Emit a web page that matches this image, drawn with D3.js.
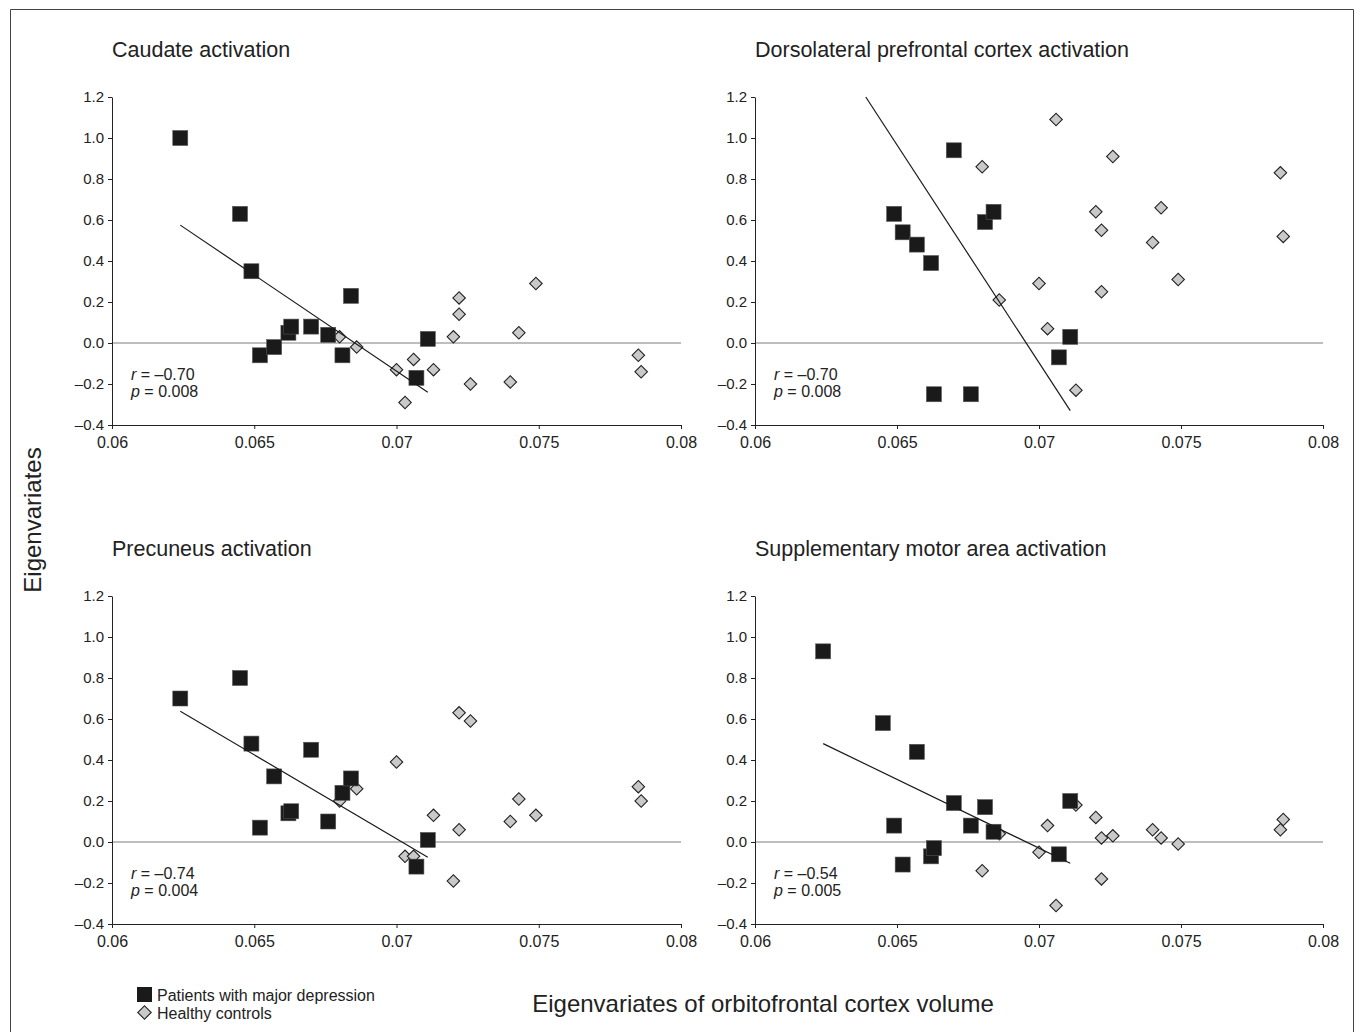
<!DOCTYPE html>
<html>
<head>
<meta charset="utf-8">
<script src="https://cdn.jsdelivr.net/npm/d3@7"></script>
<style>
  body { margin: 0; background: #fff; }
  svg { display: block; font-family: "Liberation Sans", Arial, sans-serif; }
  .axis path, .axis line { stroke: #222; }
  .axis text { fill: #222; }
  .xaxis text { font-size: 16px; }
  .yaxis text { font-size: 15px; }
</style>
</head>
<body>
<script>
// x values shared by all four panels (same subjects)
var patientX = [0.0624, 0.0645, 0.0649, 0.0652, 0.0657, 0.0662, 0.0663, 0.0670, 0.0676, 0.0681, 0.0684, 0.0707, 0.0711];
var controlX = [0.0680, 0.0686, 0.0700, 0.0703, 0.0706, 0.0713, 0.0720, 0.0722, 0.0722, 0.0726, 0.0740, 0.0743, 0.0749, 0.0785, 0.0786];

// eigenvariates per region (null = off the plotted range)
var caudatePatients = [1.00, 0.63, 0.35, -0.06, -0.02, 0.05, 0.08, 0.08, 0.04, -0.06, 0.23, -0.17, 0.02];
var caudateControls = [0.03, -0.02, -0.13, -0.29, -0.08, -0.13, 0.03, 0.22, 0.14, -0.20, -0.19, 0.05, 0.29, -0.06, -0.14];
var dlpfcPatients = [null, null, 0.63, 0.54, 0.48, 0.39, -0.25, 0.94, -0.25, 0.59, 0.64, -0.07, 0.03];
var dlpfcControls = [0.86, 0.21, 0.29, 0.07, 1.09, -0.23, 0.64, 0.55, 0.25, 0.91, 0.49, 0.66, 0.31, 0.83, 0.52];
var precuneusPatients = [0.70, 0.80, 0.48, 0.07, 0.32, 0.14, 0.15, 0.45, 0.10, 0.24, 0.31, -0.12, 0.01];
var precuneusControls = [0.20, 0.26, 0.39, -0.07, -0.07, 0.13, -0.19, 0.63, 0.06, 0.59, 0.10, 0.21, 0.13, 0.27, 0.20];
var smaPatients = [0.93, 0.58, 0.08, -0.11, 0.44, -0.07, -0.03, 0.19, 0.08, 0.17, 0.05, -0.06, 0.20];
var smaControls = [-0.14, 0.04, -0.05, 0.08, -0.31, 0.18, 0.12, 0.02, -0.18, 0.03, 0.06, 0.02, -0.01, 0.06, 0.11];

// fitted lines (patients), end points
var caudateFit = [[0.0624, 0.575], [0.0711, -0.24]];
var dlpfcFit = [[0.0639, 1.20], [0.0711, -0.33]];
var precuneusFit = [[0.0624, 0.638], [0.0711, -0.074]];
var smaFit = [[0.0624, 0.48], [0.0711, -0.104]];

var titles = ["Caudate activation", "Dorsolateral prefrontal cortex activation",
              "Precuneus activation", "Supplementary motor area activation"];
var rValues = ["\u20130.70", "\u20130.70", "\u20130.74", "\u20130.54"];
var pValues = ["0.008", "0.008", "0.004", "0.005"];

var xTicks = [0.06, 0.065, 0.07, 0.075, 0.08];
var xTickLabels = ["0.06", "0.065", "0.07", "0.075", "0.08"];
var yTicks = [-0.4, -0.2, 0, 0.2, 0.4, 0.6, 0.8, 1.0, 1.2];
var yTickLabels = ["\u20130.4", "\u20130.2", "0.0", "0.2", "0.4", "0.6", "0.8", "1.0", "1.2"];

var width = 1361, height = 1032;

var svg = d3.select("body").append("svg")
    .attr("width", width)
    .attr("height", height);

// frame (open at the bottom, as cropped)
svg.append("path")
    .attr("d", "M10.5," + height + "V9.5H1353.5V" + height)
    .attr("fill", "none")
    .attr("stroke", "#444")
    .attr("stroke-width", 1);

var panels = [
    {left: 112, right: 681, top: 97, bottom: 425, pat: caudatePatients, con: caudateControls, fit: caudateFit},
    {left: 755, right: 1323, top: 97, bottom: 425, pat: dlpfcPatients, con: dlpfcControls, fit: dlpfcFit},
    {left: 112, right: 681, top: 596, bottom: 924, pat: precuneusPatients, con: precuneusControls, fit: precuneusFit},
    {left: 755, right: 1323, top: 596, bottom: 924, pat: smaPatients, con: smaControls, fit: smaFit}
];

panels.forEach(function(p, i) {
    var x = d3.scaleLinear().domain([0.06, 0.08]).range([p.left, p.right]);
    var y = d3.scaleLinear().domain([-0.4, 1.2]).range([p.bottom, p.top]);
    var g = svg.append("g");

    g.append("text")
        .attr("x", p.left)
        .attr("y", p.top - 40)
        .attr("font-size", 21.5)
        .attr("fill", "#222")
        .text(titles[i]);

    // zero reference line
    g.append("line")
        .attr("x1", x(0.06)).attr("x2", x(0.08))
        .attr("y1", y(0)).attr("y2", y(0))
        .attr("stroke", "#a8a8a8")
        .attr("stroke-width", 1.5);

    g.append("g")
        .attr("class", "axis xaxis")
        .attr("transform", "translate(0," + p.bottom + ")")
        .call(d3.axisBottom(x).tickValues(xTicks)
              .tickFormat(function(d, k) { return xTickLabels[k]; })
              .tickSize(4).tickSizeOuter(0).tickPadding(8));

    g.append("g")
        .attr("class", "axis yaxis")
        .attr("transform", "translate(" + p.left + ",0)")
        .call(d3.axisLeft(y).tickValues(yTicks)
              .tickFormat(function(d, k) { return yTickLabels[k]; })
              .tickSize(4).tickSizeOuter(0).tickPadding(4));

    g.selectAll("path.control")
        .data(p.con.map(function(v, k) { return {x: controlX[k], y: v}; }))
        .enter().append("path")
        .attr("class", "control")
        .attr("d", d3.symbol().type(d3.symbolSquare).size(78))
        .attr("transform", function(d) { return "translate(" + x(d.x) + "," + y(d.y) + ") rotate(45)"; })
        .attr("fill", "#c9c9c9")
        .attr("stroke", "#222")
        .attr("stroke-width", 1.1);

    g.selectAll("rect.patient")
        .data(p.pat.map(function(v, k) { return {x: patientX[k], y: v}; })
                   .filter(function(d) { return d.y !== null; }))
        .enter().append("rect")
        .attr("class", "patient")
        .attr("x", function(d) { return x(d.x) - 7.5; })
        .attr("y", function(d) { return y(d.y) - 7.5; })
        .attr("width", 15)
        .attr("height", 15)
        .attr("fill", "#1a1a1a")
        .attr("stroke", "#555")
        .attr("stroke-width", 0.6);

    g.append("path")
        .datum(p.fit)
        .attr("d", d3.line().x(function(d) { return x(d[0]); }).y(function(d) { return y(d[1]); }))
        .attr("fill", "none")
        .attr("stroke", "#1a1a1a")
        .attr("stroke-width", 1.2);

    var stats = g.append("g").attr("font-size", 16).attr("fill", "#222");
    var t1 = stats.append("text").attr("x", p.left + 19).attr("y", p.bottom - 45);
    t1.append("tspan").attr("font-style", "italic").text("r");
    t1.append("tspan").text(" = " + rValues[i]);
    var t2 = stats.append("text").attr("x", p.left + 19).attr("y", p.bottom - 28);
    t2.append("tspan").attr("font-style", "italic").text("p");
    t2.append("tspan").text(" = " + pValues[i]);
});

// shared axis titles
svg.append("text")
    .attr("transform", "translate(41,520) rotate(-90)")
    .attr("text-anchor", "middle")
    .attr("font-size", 24)
    .attr("fill", "#222")
    .text("Eigenvariates");

svg.append("text")
    .attr("x", 763)
    .attr("y", 1012)
    .attr("text-anchor", "middle")
    .attr("font-size", 24)
    .attr("fill", "#222")
    .text("Eigenvariates of orbitofrontal cortex volume");

// legend
var legend = svg.append("g").attr("font-size", 16).attr("fill", "#222");
legend.append("rect")
    .attr("x", 137).attr("y", 987).attr("width", 15).attr("height", 15)
    .attr("fill", "#1a1a1a");
legend.append("text").attr("x", 157).attr("y", 1001).text("Patients with major depression");
legend.append("path")
    .attr("d", d3.symbol().type(d3.symbolSquare).size(90))
    .attr("transform", "translate(144.5,1012.5) rotate(45)")
    .attr("fill", "#c9c9c9")
    .attr("stroke", "#222")
    .attr("stroke-width", 1.1);
legend.append("text").attr("x", 157).attr("y", 1019).text("Healthy controls");
</script>
</body>
</html>
